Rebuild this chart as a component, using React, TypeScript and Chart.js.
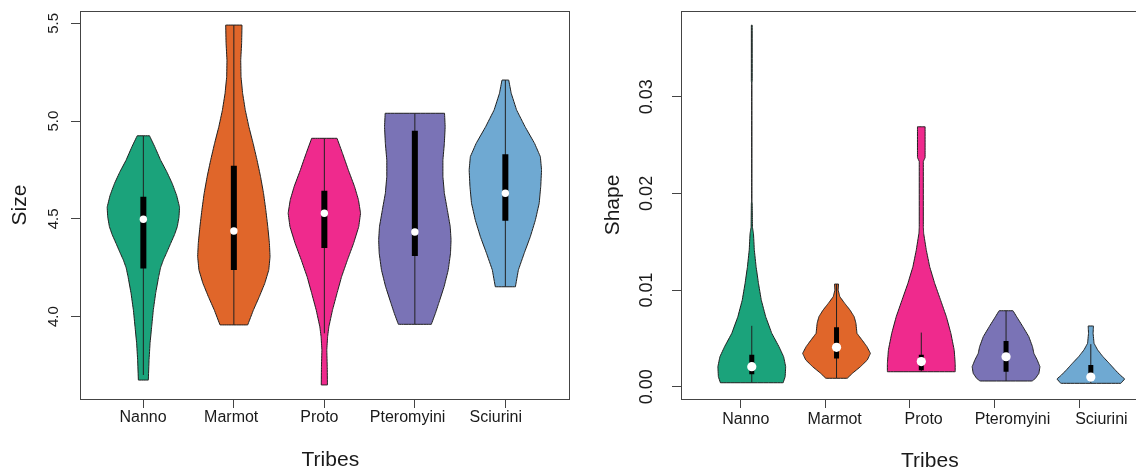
import React, { useEffect, useRef } from "react";
import { Chart, registerables } from "chart.js";

Chart.register(...registerables);

const FONT = "'Liberation Sans', Arial, Helvetica, sans-serif";
const TEXT = "#1a1a1a";
const AXIS = "#444444";
const OUTLINE = "#1f1f1f";

const tribes = ["Nanno", "Marmot", "Proto", "Pteromyini", "Sciurini"];
const tribeColors = ["#1ba37b", "#e0662a", "#ef2a8d", "#7a73b6", "#6fa9d2"];

const sizeTicks = [4.0, 4.5, 5.0, 5.5];
const shapeTicks = [0, 0.01, 0.02, 0.03];

// ---- Size violins: density outline (value levels, top to bottom) and half-widths ----
const sizeNannoLevels = [4.925, 4.87, 4.8, 4.74, 4.68, 4.62, 4.56, 4.51, 4.46, 4.42, 4.375, 4.33, 4.29, 4.25, 4.204, 4.12, 4.034, 3.949, 3.864, 3.779, 3.676];
const sizeNannoWidths = [0.068, 0.125, 0.191, 0.26, 0.32, 0.368, 0.4, 0.394, 0.375, 0.345, 0.302, 0.26, 0.221, 0.19, 0.169, 0.136, 0.11, 0.092, 0.074, 0.063, 0.055];
const sizeMarmotLevels = [5.491, 5.398, 5.312, 5.227, 5.142, 5.057, 4.971, 4.886, 4.801, 4.716, 4.631, 4.546, 4.46, 4.375, 4.307, 4.239, 4.171, 4.102, 4.034, 3.958];
const sizeMarmotWidths = [0.09, 0.086, 0.076, 0.079, 0.097, 0.126, 0.166, 0.213, 0.256, 0.295, 0.328, 0.353, 0.375, 0.393, 0.4, 0.386, 0.342, 0.281, 0.216, 0.153];
const sizeProtoLevels = [4.912, 4.835, 4.75, 4.665, 4.597, 4.529, 4.46, 4.375, 4.29, 4.204, 4.12, 4.034, 3.949, 3.898, 3.83, 3.744, 3.651];
const sizeProtoWidths = [0.14, 0.201, 0.265, 0.334, 0.377, 0.4, 0.38, 0.323, 0.255, 0.19, 0.14, 0.09, 0.05, 0.036, 0.027, 0.032, 0.034];
const sizePteroLevels = [5.04, 4.971, 4.886, 4.801, 4.716, 4.631, 4.546, 4.46, 4.392, 4.324, 4.239, 4.153, 4.069, 4.017, 3.961];
const sizePteroWidths = [0.328, 0.335, 0.326, 0.31, 0.31, 0.326, 0.359, 0.391, 0.4, 0.394, 0.369, 0.323, 0.264, 0.227, 0.182];
const sizeSciuriniLevels = [5.21, 5.142, 5.057, 4.971, 4.886, 4.818, 4.75, 4.665, 4.58, 4.494, 4.409, 4.324, 4.239, 4.153];
const sizeSciuriniWidths = [0.037, 0.065, 0.124, 0.218, 0.323, 0.387, 0.4, 0.391, 0.374, 0.332, 0.276, 0.208, 0.144, 0.111];

const sizeQ1 = [4.247, 4.239, 4.351, 4.31, 4.491];
const sizeQ3 = [4.613, 4.772, 4.644, 4.951, 4.83];
const sizeMedian = [4.498, 4.438, 4.529, 4.433, 4.631];
const sizeWhiskerLow = [3.702, 3.958, 3.915, 3.961, 4.153];
const sizeWhiskerHigh = [4.925, 5.491, 4.912, 5.04, 5.21];

// ---- Shape violins ----
const shapeNannoLevels = [0.0374, 0.0316, 0.0314, 0.0192, 0.019, 0.0165, 0.01586, 0.01414, 0.01241, 0.01069, 0.00897, 0.00724, 0.00552, 0.00414, 0.0031, 0.00207, 0.00103, 0.00041];
const shapeNannoWidths = [0.005, 0.005, 0.0008, 0.0008, 0.005, 0.008, 0.02, 0.03, 0.051, 0.079, 0.112, 0.164, 0.236, 0.321, 0.376, 0.4, 0.394, 0.37];
const shapeMarmotLevels = [0.01062, 0.01, 0.00931, 0.00862, 0.00793, 0.00724, 0.00656, 0.00552, 0.00483, 0.00414, 0.00345, 0.00276, 0.00207, 0.00139, 0.00087];
const shapeMarmotWidths = [0.023, 0.019, 0.039, 0.097, 0.159, 0.208, 0.229, 0.241, 0.301, 0.359, 0.4, 0.363, 0.282, 0.188, 0.126];
const shapeProtoLevels = [0.02689, 0.0237, 0.0233, 0.0165, 0.01586, 0.01414, 0.01241, 0.01069, 0.00897, 0.00724, 0.00552, 0.0038, 0.00242, 0.00155];
const shapeProtoWidths = [0.045, 0.045, 0.024, 0.024, 0.028, 0.059, 0.099, 0.158, 0.227, 0.296, 0.349, 0.388, 0.4, 0.4];
const shapePteroLevels = [0.00786, 0.00724, 0.0062, 0.00517, 0.00414, 0.00345, 0.00276, 0.00207, 0.00139, 0.00087, 0.00059];
const shapePteroWidths = [0.082, 0.125, 0.199, 0.269, 0.312, 0.328, 0.368, 0.4, 0.388, 0.348, 0.308];
const shapeSciuriniLevels = [0.00628, 0.00552, 0.00449, 0.0038, 0.0031, 0.00242, 0.00173, 0.00121, 0.0008, 0.00035];
const shapeSciuriniWidths = [0.031, 0.027, 0.038, 0.081, 0.144, 0.217, 0.288, 0.346, 0.4, 0.354];

const shapeQ1 = [0.0013, 0.00293, 0.0017, 0.00155, 0.0009];
const shapeQ3 = [0.0033, 0.00614, 0.0033, 0.00473, 0.00224];
const shapeMedian = [0.00207, 0.00407, 0.0026, 0.0031, 0.001];
const shapeWhiskerLow = [0.00041, 0.00087, 0.00155, 0.00059, 0.00035];
const shapeWhiskerHigh = [0.0063, 0.01062, 0.0056, 0.00786, 0.0044];

const sizeLevels = [sizeNannoLevels, sizeMarmotLevels, sizeProtoLevels, sizePteroLevels, sizeSciuriniLevels];
const sizeWidths = [sizeNannoWidths, sizeMarmotWidths, sizeProtoWidths, sizePteroWidths, sizeSciuriniWidths];
const shapeLevels = [shapeNannoLevels, shapeMarmotLevels, shapeProtoLevels, shapePteroLevels, shapeSciuriniLevels];
const shapeWidths = [shapeNannoWidths, shapeMarmotWidths, shapeProtoWidths, shapePteroWidths, shapeSciuriniWidths];

function violinOutline(pos: number, levels: number[], widths: number[]) {
  const right = levels.map((v, i) => ({ x: pos + widths[i], y: v }));
  const left = levels.map((v, i) => ({ x: pos - widths[i], y: v })).reverse();
  return [...right, ...left, right[0]];
}

type Panel = {
  levels: number[][];
  widths: number[][];
  q1: number[];
  q3: number[];
  median: number[];
  wLow: number[];
  wHigh: number[];
  shift: number;
  boxWidth: number;
  dotRadius: number;
  yMin: number;
  yMax: number;
  yTicks: number[];
  yDigits: number;
  yFont: number;
  yPad: number;
  yTitle: string;
  yTitlePad: number;
  yAxisWidth: number;
  padRight: number;
  labelMin: number;
  labelMax: number;
  labelPad: number;
  xTitleShift: number;
  xTitleY: number;
};

function makeDatasets(p: Panel) {
  const ds: any[] = [];
  p.levels.forEach((lv, i) => {
    ds.push({
      type: "line",
      data: violinOutline(i + 1 + p.shift, lv, p.widths[i]),
      fill: "shape",
      backgroundColor: tribeColors[i],
      borderColor: OUTLINE,
      borderWidth: 1,
      borderJoinStyle: "round",
      pointRadius: 0,
      // a tiny tension keeps Chart.js off its pixel-merging fast path
      tension: 0.0001,
      order: 3,
    });
  });
  tribes.forEach((_, i) => {
    const x = i + 1 + p.shift;
    ds.push({
      type: "line",
      data: [{ x, y: p.wLow[i] }, { x, y: p.wHigh[i] }],
      fill: false,
      borderColor: "#222222",
      borderWidth: 1,
      pointRadius: 0,
      order: 2,
    });
    ds.push({
      type: "line",
      data: [{ x, y: p.q1[i] }, { x, y: p.q3[i] }],
      fill: false,
      borderColor: "#000000",
      borderWidth: p.boxWidth,
      borderCapStyle: "butt",
      pointRadius: 0,
      order: 1,
    });
  });
  ds.push({
    type: "line",
    data: tribes.map((_, i) => ({ x: i + 1 + p.shift, y: p.median[i] })),
    showLine: false,
    fill: false,
    pointRadius: p.dotRadius,
    pointBackgroundColor: "#ffffff",
    pointBorderWidth: 0,
    order: 0,
  });
  return ds;
}

const fixBox = (w?: number, h?: number) => (s: any) => {
  if (w !== undefined) s.width = w;
  if (h !== undefined) s.height = h;
  s.paddingLeft = 0;
  s.paddingRight = 0;
  s.paddingTop = 0;
  s.paddingBottom = 0;
};

const framePlugin = {
  id: "frame",
  afterDraw(chart: any, _args: any, opts: any) {
    const { ctx, chartArea: a } = chart;
    ctx.save();
    ctx.strokeStyle = AXIS;
    ctx.lineWidth = 1;
    const l = Math.round(a.left) + 0.5;
    const t = Math.round(a.top) + 0.5;
    const r = Math.round(a.right) + 0.5;
    const b = Math.round(a.bottom) + 0.5;
    ctx.strokeRect(l, t, r - l, b - t);
    ctx.fillStyle = TEXT;
    ctx.font = `21px ${FONT}`;
    ctx.textAlign = "center";
    ctx.textBaseline = "middle";
    ctx.fillText(opts.xTitle, (a.left + a.right) / 2 + opts.xTitleShift, opts.xTitleY);
    ctx.restore();
  },
};

function makeConfig(p: Panel): any {
  const tickValues = tribes.map((_, i) => ({ value: i + 1 }));
  return {
    type: "line",
    data: { datasets: makeDatasets(p) },
    options: {
      responsive: false,
      animation: false,
      events: [],
      layout: { padding: { top: 11, right: p.padRight, left: 0, bottom: 0 } },
      plugins: {
        legend: { display: false },
        tooltip: { enabled: false },
        frame: { xTitle: "Tribes", xTitleShift: p.xTitleShift, xTitleY: p.xTitleY },
      },
      scales: {
        x: {
          type: "linear",
          position: "bottom",
          min: 0.3,
          max: 5.7,
          weight: 0,
          afterBuildTicks: (s: any) => {
            s.ticks = tickValues.map((t) => ({ ...t }));
          },
          ticks: { display: false },
          grid: { display: true, drawOnChartArea: false, drawTicks: true, tickLength: 9, color: AXIS, lineWidth: 1 },
          border: { display: false },
          afterFit: fixBox(undefined, 9),
        },
        xLabels: {
          type: "linear",
          axis: "x",
          position: "bottom",
          min: p.labelMin,
          max: p.labelMax,
          weight: 1,
          afterBuildTicks: (s: any) => {
            s.ticks = tickValues.map((t) => ({ ...t }));
          },
          ticks: {
            autoSkip: false,
            maxRotation: 0,
            minRotation: 0,
            padding: p.labelPad,
            color: TEXT,
            font: { family: FONT, size: 16, lineHeight: 1 },
            callback: (v: number) => tribes[Math.round(v) - 1],
          },
          grid: { display: false, drawTicks: false, tickLength: 0 },
          border: { display: false },
          afterFit: fixBox(undefined, 63),
        },
        y: {
          type: "linear",
          position: "left",
          min: p.yMin,
          max: p.yMax,
          afterBuildTicks: (s: any) => {
            s.ticks = p.yTicks.map((v) => ({ value: v }));
          },
          ticks: {
            minRotation: 90,
            maxRotation: 90,
            crossAlign: "center",
            padding: p.yPad,
            color: TEXT,
            font: { family: FONT, size: p.yFont },
            callback: (v: number) => Number(v).toFixed(p.yDigits),
          },
          grid: { display: true, drawOnChartArea: false, drawTicks: true, tickLength: 9, color: AXIS, lineWidth: 1 },
          border: { display: false },
          title: {
            display: true,
            text: p.yTitle,
            color: TEXT,
            font: { family: FONT, size: 21 },
            padding: { top: p.yTitlePad, bottom: 0 },
          },
          afterFit: fixBox(p.yAxisWidth, undefined),
        },
      },
    },
    plugins: [framePlugin],
  };
}

const sizePanel: Panel = {
  levels: sizeLevels,
  widths: sizeWidths,
  q1: sizeQ1,
  q3: sizeQ3,
  median: sizeMedian,
  wLow: sizeWhiskerLow,
  wHigh: sizeWhiskerHigh,
  shift: 0,
  boxWidth: 6,
  dotRadius: 3.7,
  yMin: 3.5792,
  yMax: 5.5629,
  yTicks: sizeTicks,
  yDigits: 1,
  yFont: 15,
  yPad: 6.6,
  yTitle: "Size",
  yTitlePad: 7.4,
  yAxisWidth: 80,
  padRight: 31.3,
  labelMin: 0.2857,
  labelMax: 5.8265,
  labelPad: 2,
  xTitleShift: 6,
  xTitleY: 460,
};

const shapePanel: Panel = {
  levels: shapeLevels,
  widths: shapeWidths,
  q1: shapeQ1,
  q3: shapeQ3,
  median: shapeMedian,
  wLow: shapeWhiskerLow,
  wHigh: shapeWhiskerHigh,
  shift: 0.135,
  boxWidth: 5,
  dotRadius: 4.6,
  yMin: -0.001272,
  yMax: 0.038866,
  yTicks: shapeTicks,
  yDigits: 2,
  yFont: 18,
  yPad: 7.5,
  yTitle: "Shape",
  yTitlePad: 0.4,
  yAxisWidth: 81,
  padRight: 21.3,
  labelMin: 0.2711,
  labelMax: 5.4196,
  labelPad: 4,
  xTitleShift: 20,
  xTitleY: 461.7,
};

function ChartCanvas({ panel, left, width }: { panel: Panel; left: number; width: number }) {
  const ref = useRef<HTMLCanvasElement | null>(null);
  useEffect(() => {
    if (!ref.current) return;
    const chart = new Chart(ref.current, makeConfig(panel));
    return () => chart.destroy();
  }, [panel]);
  return (
    <canvas
      ref={ref}
      width={width}
      height={471}
      style={{ position: "absolute", left, top: 0, width, height: 471 }}
    />
  );
}

export default function App() {
  return (
    <div
      style={{
        position: "fixed",
        left: 0,
        top: 0,
        width: 1136,
        height: 471,
        overflow: "hidden",
        background: "#ffffff",
      }}
    >
      <ChartCanvas panel={sizePanel} left={0} width={600} />
      <ChartCanvas panel={shapePanel} left={600} width={560} />
    </div>
  );
}
